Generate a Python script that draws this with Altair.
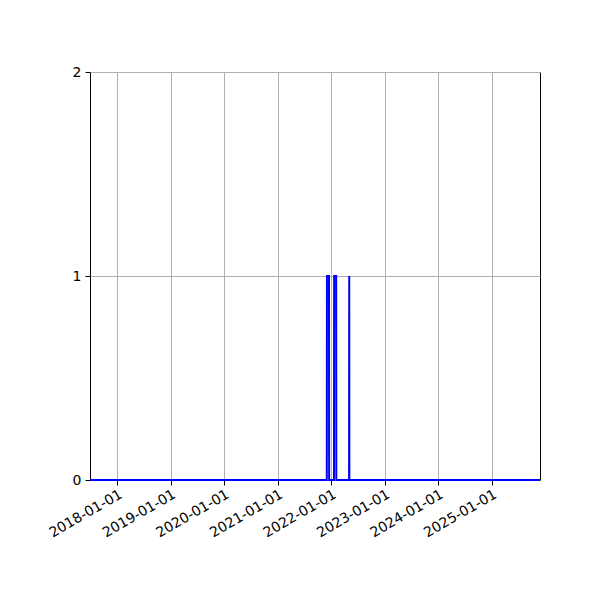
import altair as alt
import pandas as pd

# a daily-ish 0/1 series, mostly zero
dates = [
    "2017-06-30",
    "2021-12-02", "2021-12-03", "2021-12-17", "2021-12-18",
    "2022-01-20", "2022-01-21", "2022-02-04", "2022-02-05",
    "2022-05-03", "2022-05-04", "2022-05-05",
    "2025-11-26",
]
values = [0, 0, 1, 1, 0, 0, 1, 1, 0, 0, 1, 0, 0]

tick_years = list(range(2018, 2026))

df = pd.DataFrame({"date": dates, "value": values})

x_domain = [
    alt.DateTime(year=2017, month=6, date=30, utc=True),
    alt.DateTime(year=2025, month=11, date=26, utc=True),
]
x_ticks = [alt.DateTime(year=y, month=1, date=1, utc=True) for y in tick_years]

chart = alt.Chart(df).mark_line(
    color="blue",
    strokeWidth=2,
).encode(
    x=alt.X(
        "date:T",
        title=None,
        scale=alt.Scale(type="utc", domain=x_domain, nice=False),
        axis=alt.Axis(
            values=x_ticks,
            format="%Y-%m-%d",
            labelAngle=330,
            labelAlign="right",
            labelBaseline="top",
            labelPadding=2,
            tickSize=5,
            grid=True,
        ),
    ),
    y=alt.Y(
        "value:Q",
        title=None,
        scale=alt.Scale(domain=[0, 2], nice=False),
        axis=alt.Axis(
            tickCount=2,
            format="d",
            tickSize=5,
            labelPadding=4,
            grid=True,
        ),
    ),
).properties(
    width=450,
    height=408,
    padding={"left": 82, "top": 64, "right": 52, "bottom": 112},
    autosize="none",
).configure_axis(
    labelFont="DejaVu Sans",
    labelFontSize=14,
    labelColor="black",
    tickColor="black",
    labelOverlap=False,
    labelFlush=False,
    domain=False,
    gridColor="#b0b0b0",
    gridWidth=1,
).configure_view(
    stroke="black",
    strokeWidth=1,
)

chart.save("out.html", embed_options={"renderer": "svg", "actions": False})
